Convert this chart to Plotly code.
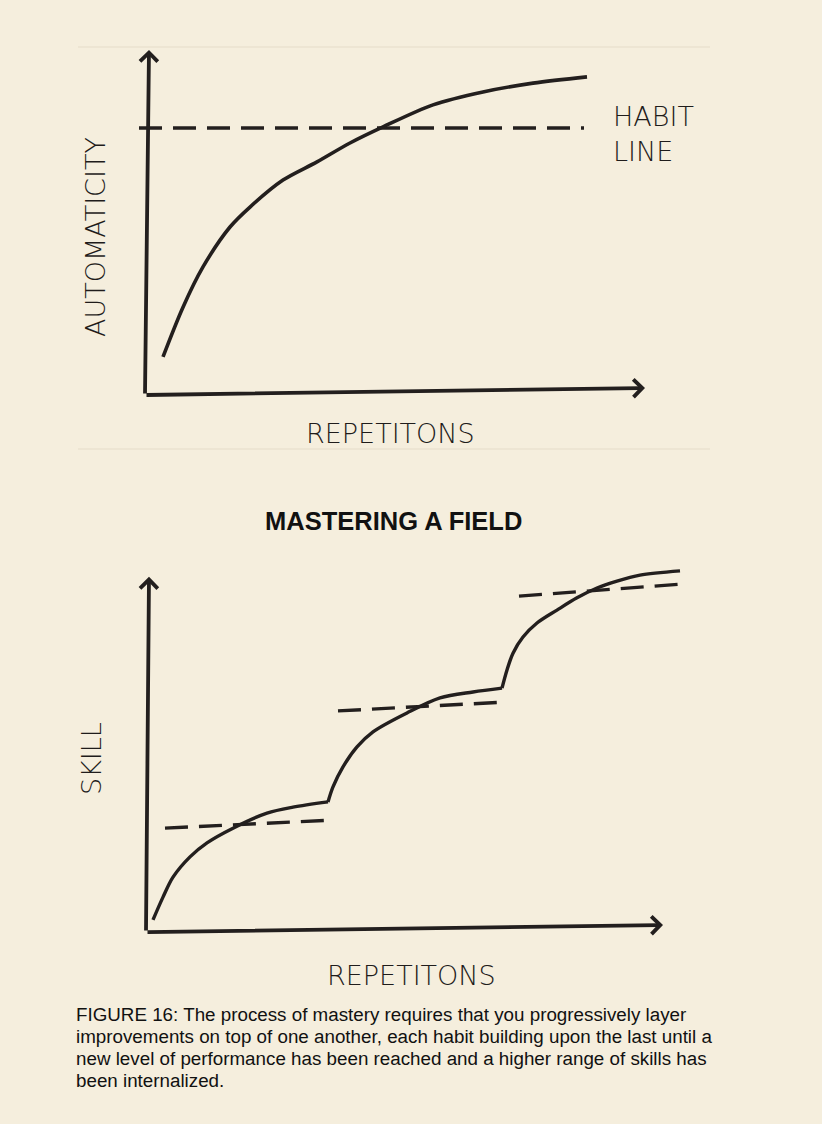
import plotly.graph_objects as go
from plotly.subplots import make_subplots


## DATA ##
# top chart: automaticity vs repetitions (arbitrary units, 0-100)
habit_x = [3.4, 7.4, 11.4, 16.8, 20.8, 27.4, 34.2, 40.8, 47.4, 57.4, 67.4, 77.4, 88.2]
habit_y = [10.9, 25.1, 36.6, 48.0, 53.7, 61.4, 66.6, 72.0, 76.6, 82.9, 86.6, 89.1, 90.9]
habit_line_x = [-1.4, 87.6]
habit_line_y = [76.3, 76.3]

# bottom chart: skill vs repetitions, three learning stages
stage1_x = [1.4, 3.4, 5.4, 8.8, 12.2, 17.4, 24.2, 29.4, 36.4]
stage1_y = [2.9, 9.4, 15.1, 20.9, 24.9, 29.1, 33.4, 35.1, 36.6]
stage2_x = [36.4, 37.4, 39.4, 42.2, 45.4, 52.2, 58.8, 65.4, 71.2]
stage2_y = [36.6, 40.9, 46.6, 52.3, 56.6, 62.0, 66.3, 68.0, 69.1]
stage3_x = [71.2, 72.2, 73.4, 75.4, 78.2, 82.2, 86.2, 90.2, 94.2, 98.8, 106.8]
stage3_y = [69.1, 74.3, 79.1, 83.7, 87.7, 91.4, 94.9, 97.7, 99.7, 101.4, 102.6]

plateau_x = [[3.8, 37.2], [38.4, 71.4], [74.6, 107.8]]
plateau_y = [[29.1, 31.4], [62.6, 65.1], [95.4, 98.9]]

# hand drawn axes: [origin, tip]
top_yaxis = ([-0.2, 0.6], [0.0, 98.6])
top_xaxis = ([-0.2, 99.8], [0.0, 2.0])
bot_yaxis = ([0.0, 0.6], [-0.6, 100.9])
bot_xaxis = ([0.0, 103.4], [-0.6, 1.4])

caption_lines = [
    "FIGURE 16: The process of mastery requires that you progressively layer",
    "improvements on top of one another, each habit building upon the last until a",
    "new level of performance has been reached and a higher range of skills has",
    "been internalized.",
]


## PARAMS ##
W, H = 822, 1124
BG = '#F5EEDD'
INK = '#231F1E'
SKETCH_FONT = dict(family='DejaVu Sans', size=27, color='#1F1C1B', weight=200)
DASH = '23px,11px'


def px(x):
    return x / W


def py(y):
    return 1 - y / H


def label(text, x, y, angle=0, xanchor='center', font=SKETCH_FONT, align='center'):
    fig.add_annotation(x=px(x), y=py(y), xref='paper', yref='paper', text=text,
                       textangle=angle, showarrow=False, xanchor=xanchor, yanchor='middle',
                       align=align, font=font)


## FIGURE ##
fig = make_subplots(rows=2, cols=1)

fig.add_trace(go.Scatter(x=habit_x, y=habit_y, mode='lines',
                         line=dict(color=INK, width=3.6, shape='spline', smoothing=0.9),
                         showlegend=False), row=1, col=1)
fig.add_trace(go.Scatter(x=habit_line_x, y=habit_line_y, mode='lines',
                         line=dict(color=INK, width=3.4, dash=DASH),
                         showlegend=False), row=1, col=1)

for sx, sy in [(stage1_x, stage1_y), (stage2_x, stage2_y), (stage3_x, stage3_y)]:
    fig.add_trace(go.Scatter(x=sx, y=sy, mode='lines',
                             line=dict(color=INK, width=3.4, shape='spline', smoothing=0.9),
                             showlegend=False), row=2, col=1)
for lx, ly in zip(plateau_x, plateau_y):
    fig.add_trace(go.Scatter(x=lx, y=ly, mode='lines',
                             line=dict(color=INK, width=3.4, dash=DASH),
                             showlegend=False), row=2, col=1)

# axes with arrow heads
for (ax_x, ax_y), xr, yr in [(top_yaxis, 'x', 'y'), (top_xaxis, 'x', 'y'),
                             (bot_yaxis, 'x2', 'y2'), (bot_xaxis, 'x2', 'y2')]:
    fig.add_annotation(
        x=ax_x[1], y=ax_y[1], ax=ax_x[0], ay=ax_y[0],
        xref=xr, yref=yr, axref=xr, ayref=yr,
        text='', showarrow=True,
        arrowhead=4, arrowsize=0.9, arrowwidth=3.8, arrowcolor=INK, standoff=0,
    )

# texts
label('AUTOMATICITY', 95, 237, angle=-90)
label('REPETITONS', 390, 433)
label('HABIT<br>LINE', 611, 134, xanchor='left', align='left')
label('<b>MASTERING A FIELD</b>', 393, 521,
      font=dict(family='Liberation Sans', size=25.5, color='#111111'))
label('SKILL', 91, 759, angle=-90)
label('REPETITONS', 411, 975)
for i, line in enumerate(caption_lines):
    label(line, 74, 1014 + 22 * i, xanchor='left', align='left',
          font=dict(family='Liberation Sans', size=18.8, color='#111111'))

# faint page separators
for yy in [47, 449]:
    fig.add_shape(type='line', xref='paper', yref='paper',
                  x0=px(78), x1=px(710), y0=py(yy), y1=py(yy),
                  line=dict(color='#EAE2CF', width=1.5))

hidden = dict(visible=False, showgrid=False, zeroline=False, fixedrange=True)
fig.update_layout(
    width=W, height=H,
    margin=dict(l=0, r=0, t=0, b=0),
    paper_bgcolor=BG,
    plot_bgcolor=BG,
    hovermode=False,
    xaxis=dict(hidden, domain=[px(96), px(746)], range=[-10, 120]),
    yaxis=dict(hidden, domain=[py(420), py(40)], range=[-(420 - 395) / 3.5, (395 - 40) / 3.5]),
    xaxis2=dict(hidden, domain=[px(96), px(746)], range=[-10, 120]),
    yaxis2=dict(hidden, domain=[py(955), py(555)], range=[-(955 - 930) / 3.5, (930 - 555) / 3.5]),
)

fig.write_html("out.html", config={'displayModeBar': False},
               post_script="document.body.style.margin = '0';")
